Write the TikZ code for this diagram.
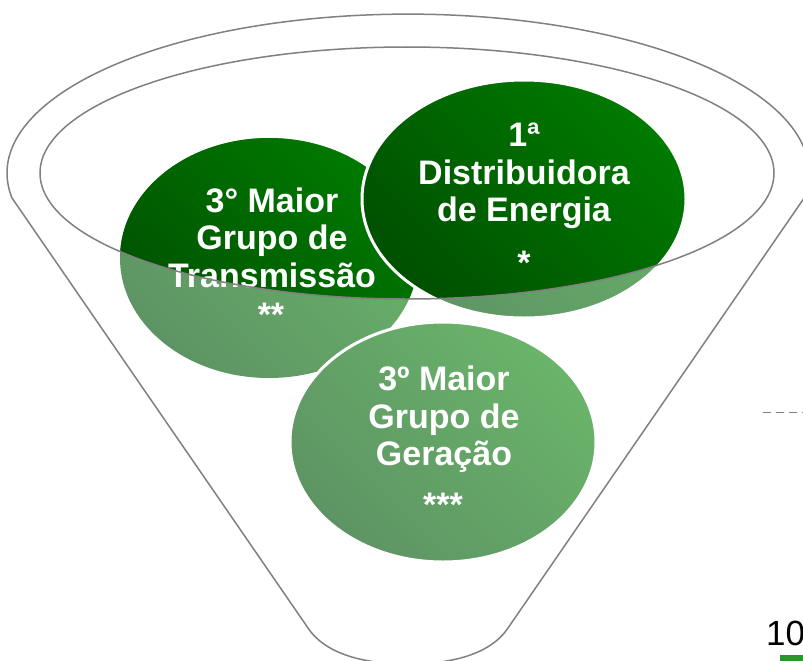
\documentclass[tikz,border=0pt]{standalone}
\usepackage{fontspec}
\setmainfont{Liberation Sans}
\definecolor{funnelgray}{RGB}{128,128,128}
\definecolor{dkA}{RGB}{0,80,0}
\definecolor{dkB}{RGB}{0,122,0}
\definecolor{ltA}{RGB}{94,148,100}
\definecolor{ltB}{RGB}{106,180,106}
\definecolor{barGreen}{RGB}{40,150,40}
\tikzset{
  lightfill/.style={bottom color=ltA, top color=ltB, shading angle=-45},
  darkfill/.style={bottom color=dkA, top color=dkB, shading angle=-45},
  whiteedge/.style={draw=white, line width=3pt},
  funnelline/.style={draw=funnelgray, line width=1.5pt},
  label/.style={text=white, font=\bfseries\fontsize{34}{37.5}\selectfont, align=center, inner sep=0pt},
}
\begin{document}
\begin{tikzpicture}[x=1pt,y=-1pt]
\useasboundingbox (0,0) rectangle (803,661);
\clip (0,0) rectangle (803,661);
\coordinate (cT) at (269,258);
\coordinate (cD) at (524,199);
\coordinate (cG) at (443,442);
\coordinate (cI) at (407,173);
% light (outside funnel mouth) layer
\shade[lightfill] (cT) ellipse [x radius=149, y radius=120];
\shade[lightfill] (cG) ellipse [x radius=153, y radius=120];
\draw[whiteedge] (cG) ellipse [x radius=153, y radius=120];
\shade[lightfill] (cD) ellipse [x radius=162, y radius=119];
\draw[whiteedge] (cD) ellipse [x radius=162, y radius=119];
% dark layer inside the funnel mouth
\begin{scope}
\clip (cI) ellipse [x radius=367, y radius=126];
\shade[darkfill] (cT) ellipse [x radius=149, y radius=120];
\shade[darkfill] (cD) ellipse [x radius=162, y radius=119];
\draw[whiteedge] (cD) ellipse [x radius=162, y radius=119];
\end{scope}
% texts
\node[label] (tT) at (272,237.5) {3° Maior\\Grupo de\\Transmissão};
\node[label, anchor=base] (sT) at (271,326) {**};
\node[label] (tD) at (524,176) {1ª\\Distribuidora\\de Energia};
\node[label, anchor=base] (sD) at (524,274) {*};
\node[label] (tG) at (444,419.5) {3º Maior\\Grupo de\\Geração};
\node[label, anchor=base] (sG) at (443,516) {***};
% funnel outline
\draw[funnelline] (cI) ellipse [x radius=367, y radius=126];
\coordinate (kL) at (12,198);
\coordinate (bL) at (308,628);
\coordinate (bR) at (508,628);
\draw[funnelline, line join=round] (bL) -- (kL)
  arc [start angle=171, end angle=369, x radius=401, y radius=159]
  -- (bR) .. controls (490,655) and (450,664) .. (408,664)
  .. controls (366,664) and (326,655) .. (bL) -- cycle;
% right-edge fragments
\coordinate (dA) at (763,412);
\coordinate (dB) at (803,412);
\draw[funnelgray, line width=1pt, dash pattern=on 8pt off 5pt] (dA) -- (dB);
\node[anchor=base west, inner sep=0pt, font=\fontsize{35}{40}\selectfont] (num) at (766,645) {10};
\fill[barGreen] (780,655) rectangle (803,661);
\end{tikzpicture}
\end{document}
